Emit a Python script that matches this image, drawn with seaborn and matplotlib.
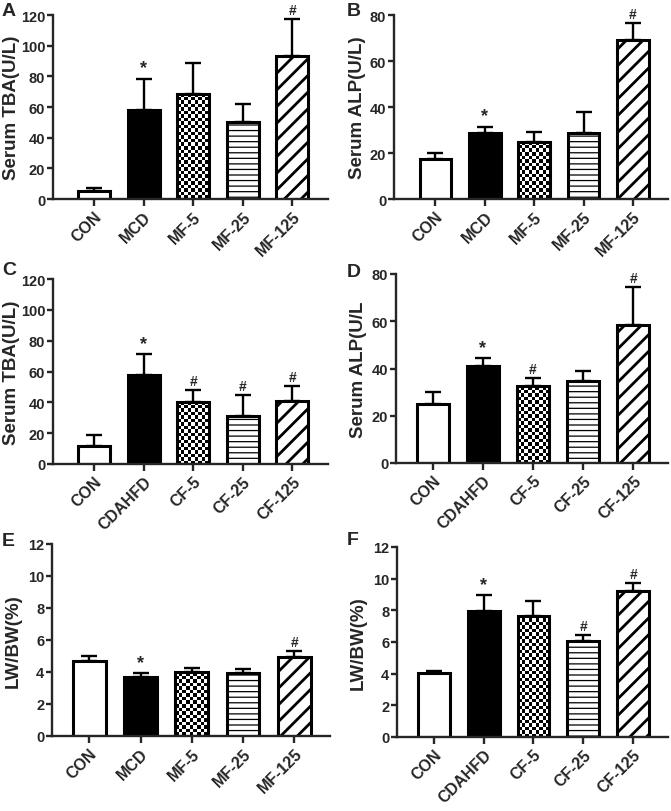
import matplotlib

matplotlib.use("Agg")
import matplotlib.pyplot as plt
import numpy as np
import pandas as pd
import seaborn as sns

sns.set_theme(style="ticks")
plt.rcParams["font.family"] = ["Liberation Sans", "DejaVu Sans"]

# groups
groups_mcd = ["CON", "MCD", "MF-5", "MF-25", "MF-125"]
groups_cda = ["CON", "CDAHFD", "CF-5", "CF-25", "CF-125"]

# panel A: serum TBA, MCD model
tba_mcd = [5.5, 58, 68.5, 50.5, 93.5]
tba_mcd_err = [2, 20.5, 20.5, 11.5, 24]
tba_mcd_marks = ["", "*", "", "", "#"]

# panel B: serum ALP, MCD model
alp_mcd = [17.5, 28.5, 25, 28.5, 69]
alp_mcd_err = [2.5, 3, 4, 9.5, 7.5]
alp_mcd_marks = ["", "*", "", "", "#"]

# panel C: serum TBA, CDAHFD model
tba_cda = [12, 57.5, 40.5, 31, 41]
tba_cda_err = [6.5, 14, 7.5, 14, 9.5]
tba_cda_marks = ["", "*", "#", "#", "#"]

# panel D: serum ALP, CDAHFD model
alp_cda = [25, 41, 32.5, 34.5, 58.5]
alp_cda_err = [5, 3.5, 3.5, 4.5, 16]
alp_cda_marks = ["", "*", "#", "", "#"]

# panel E: liver/body weight, MCD model
lw_mcd = [4.7, 3.7, 4.0, 3.95, 4.95]
lw_mcd_err = [0.3, 0.25, 0.25, 0.25, 0.35]
lw_mcd_marks = ["", "*", "", "", "#"]

# panel F: liver/body weight, CDAHFD model
lw_cda = [4.05, 7.95, 7.65, 6.05, 9.2]
lw_cda_err = [0.15, 1.0, 0.95, 0.4, 0.5]
lw_cda_marks = ["", "*", "", "#", "#"]

FILLS = ["white", "black", "white", "white", "white"]
HATCHES = [None, None, "checker", "---", "//"]

W, H = 671, 812


def px_rect(left, top, right, bottom):
    return [left / W, 1 - bottom / H, (right - left) / W, (bottom - top) / H]


def draw_panel(fig, rect, groups, vals, errs, marks, ylim, ystep, ylabel,
               label_x, xlim):
    ax = fig.add_axes(rect)
    df = pd.DataFrame({"group": groups, "value": vals})
    sns.barplot(data=df, x="group", y="value", hue="group", order=groups,
                palette=FILLS, saturation=1, legend=False, width=0.64,
                edgecolor="black", linewidth=2.2, errorbar=None, ax=ax)
    ax.set_xlim(*xlim)
    ax.set_ylim(0, ylim)
    ax.set_yticks(np.arange(0, ylim + 0.01, ystep))

    centers = [p.get_x() + p.get_width() / 2 for p in ax.patches]
    ax.errorbar(centers, vals, yerr=[np.zeros(len(vals)), errs], fmt="none",
                ecolor="black", elinewidth=1.7, capsize=5.5, capthick=1.7,
                zorder=0.5)

    for p, hatch in zip(ax.patches, HATCHES):
        p.set_zorder(2)
        if hatch == "checker":
            p.set_facecolor("none")
            bb = p.get_window_extent()
            ncol = max(1, int(round(bb.width / 3.5)))
            nrow = max(1, int(round(bb.height / 3.5)))
            board = np.add.outer(np.arange(nrow), np.arange(ncol)) % 2
            im = ax.imshow(board, cmap="gray", origin="lower",
                           interpolation="nearest", aspect="auto",
                           extent=[p.get_x(), p.get_x() + p.get_width(),
                                   0, p.get_height()], zorder=1.5)
            im.set_clip_path(p)
        elif hatch:
            p.set_hatch(hatch)
            if hasattr(p, "set_hatch_linewidth"):
                p.set_hatch_linewidth(2.0 if hatch == "//" else 0.9)
    ax.set_xlim(*xlim)
    ax.set_ylim(0, ylim)

    for c, v, e, m in zip(centers, vals, errs, marks):
        if m:
            ax.annotate(m, (c, v + e), xytext=(0, 1.5), textcoords="offset points",
                        ha="center", va="bottom",
                        fontsize=13 if m == "*" else 10, fontweight="bold")

    sns.despine(ax=ax)
    for side in ["left", "bottom"]:
        ax.spines[side].set_linewidth(1.7)
    ax.tick_params(axis="x", length=5, width=1.7, pad=2)
    ax.tick_params(axis="y", length=4, width=1.7, labelsize=10.5, pad=1.5)
    ax.set_xlabel("")
    ax.set_xticks(range(len(groups)))
    ax.set_xticklabels(groups, rotation=45, ha="right", va="top",
                       rotation_mode="anchor", fontweight="bold", fontsize=11.5)
    for t in ax.get_yticklabels():
        t.set_fontweight("bold")
    ax.set_ylabel(ylabel, fontsize=13.5, fontweight="bold")
    ax.yaxis.set_label_coords(label_x, 0.5)
    return ax


fig = plt.figure(figsize=(W / 100, H / 100), dpi=100)

draw_panel(fig, px_rect(53, 16, 328, 200), groups_mcd, tba_mcd, tba_mcd_err,
           tba_mcd_marks, 120, 20, "Serum TBA(U/L)", (20 - 53) / 275,
           (-0.83, 4.72))
draw_panel(fig, px_rect(394, 16, 668, 200), groups_mcd, alp_mcd, alp_mcd_err,
           alp_mcd_marks, 80, 20, "Serum ALP(U/L)", (366 - 394) / 274,
           (-0.84, 4.71))
draw_panel(fig, px_rect(53, 280, 328, 465), groups_cda, tba_cda, tba_cda_err,
           tba_cda_marks, 120, 20, "Serum TBA(U/L)", (20 - 53) / 275,
           (-0.83, 4.72))
draw_panel(fig, px_rect(396, 275, 668, 464), groups_cda, alp_cda, alp_cda_err,
           alp_cda_marks, 80, 20, "Serum ALP(U/L", (367 - 396) / 272,
           (-0.73, 4.69))
draw_panel(fig, px_rect(52, 545, 330, 737), groups_mcd, lw_mcd, lw_mcd_err,
           lw_mcd_marks, 12, 2, "LW/BW(%)", (22 - 52) / 278,
           (-0.73, 4.7))
draw_panel(fig, px_rect(397, 548, 668, 738), groups_cda, lw_cda, lw_cda_err,
           lw_cda_marks, 12, 2, "LW/BW(%)", (367 - 397) / 271,
           (-0.74, 4.7))

for letter, (lx, ly) in zip("ABCDEF", [(2, 3), (347, 3), (2, 262), (347, 264),
                                      (2, 533), (347, 532)]):
    fig.text(lx / W, 1 - ly / H, letter, fontsize=14, fontweight="bold",
             ha="left", va="top")

fig.savefig("out.png", dpi=100)
